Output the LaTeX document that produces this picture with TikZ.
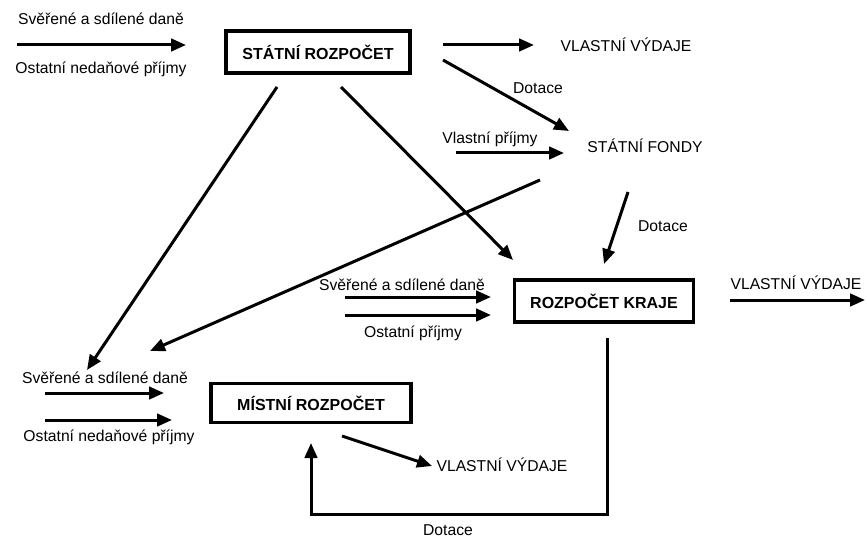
\documentclass[tikz,border=0pt]{standalone}
\usepackage{fontspec}
\setmainfont{Liberation Sans}
\usetikzlibrary{arrows.meta}
\begin{document}
\begin{tikzpicture}[x=1pt,y=-1pt,
  lbl/.style={inner sep=0pt,font=\fontsize{15.7}{18}\selectfont},
  budget/.style={draw,line width=3.2pt,inner sep=0pt,font=\fontsize{16}{18}\selectfont\bfseries},
  flow/.style={line width=3pt,-{Triangle[length=15pt,width=12.5pt]}}]
\useasboundingbox (0,0) rectangle (867,537);

% budgets
\node[budget,minimum width=184pt,minimum height=42pt] (sr) at (318,52) {STÁTNÍ ROZPOČET};
\node[budget,minimum width=179pt,minimum height=42pt] (rk) at (604,301) {ROZPOČET KRAJE};
\node[budget,minimum width=200pt,minimum height=39pt] (mr) at (311,403) {MÍSTNÍ ROZPOČET};

% labels
\node[lbl] (t1) at (101,19) {Svěřené a sdílené daně};
\node[lbl] (t2) at (101,69) {Ostatní nedaňové příjmy};
\node[lbl] (vv1) at (626,45) {VLASTNÍ VÝDAJE};
\node[lbl] (d1) at (538,88) {Dotace};
\node[lbl] (vp) at (490,139) {Vlastní příjmy};
\node[lbl] (sf) at (645,146) {STÁTNÍ FONDY};
\node[lbl] (d2) at (663,226) {Dotace};
\node[lbl] (t3) at (402,285) {Svěřené a sdílené daně};
\node[lbl] (t4) at (413,333) {Ostatní příjmy};
\node[lbl] (vv2) at (796,283) {VLASTNÍ VÝDAJE};
\node[lbl] (t5) at (105,378) {Svěřené a sdílené daně};
\node[lbl] (t6) at (109,437) {Ostatní nedaňové příjmy};
\node[lbl] (vv3) at (502,465) {VLASTNÍ VÝDAJE};
\node[lbl] (d3) at (448,530) {Dotace};

% connector end points
\coordinate (a1s) at (17,45);   \coordinate (a1e) at (186,45);
\coordinate (a2s) at (443,45);  \coordinate (a2e) at (534,45);
\coordinate (a3s) at (443,60);  \coordinate (a3e) at (569,131);
\coordinate (a4s) at (456,153); \coordinate (a4e) at (564,153);
\coordinate (a5s) at (277,87);  \coordinate (a5e) at (87,370);
\coordinate (a6s) at (341,87);  \coordinate (a6e) at (513,260);
\coordinate (a7s) at (540,180); \coordinate (a7e) at (150,351);
\coordinate (a8s) at (628,192); \coordinate (a8e) at (604,264);
\coordinate (a9s) at (345,297); \coordinate (a9e) at (491,297);
\coordinate (a10s) at (345,315); \coordinate (a10e) at (491,315);
\coordinate (a11s) at (730,300); \coordinate (a11e) at (865,300);
\coordinate (a12s) at (45,393);  \coordinate (a12e) at (164,393);
\coordinate (a13s) at (45,420);  \coordinate (a13e) at (172,420);
\coordinate (a14s) at (342,436); \coordinate (a14e) at (432,466);
\coordinate (k1) at (607,338);   \coordinate (k2) at (607,514);
\coordinate (k3) at (311,514);   \coordinate (k4) at (311,443);

% flows
\draw[flow] (a1s) -- (a1e);
\draw[flow] (a2s) -- (a2e);
\draw[flow] (a3s) -- (a3e);
\draw[flow] (a4s) -- (a4e);
\draw[flow] (a5s) -- (a5e);
\draw[flow] (a6s) -- (a6e);
\draw[flow] (a7s) -- (a7e);
\draw[flow] (a8s) -- (a8e);
\draw[flow] (a9s) -- (a9e);
\draw[flow] (a10s) -- (a10e);
\draw[flow] (a11s) -- (a11e);
\draw[flow] (a12s) -- (a12e);
\draw[flow] (a13s) -- (a13e);
\draw[flow] (a14s) -- (a14e);
\draw[flow,line join=miter] (k1) -- (k2) -- (k3) -- (k4);
\end{tikzpicture}
\end{document}
